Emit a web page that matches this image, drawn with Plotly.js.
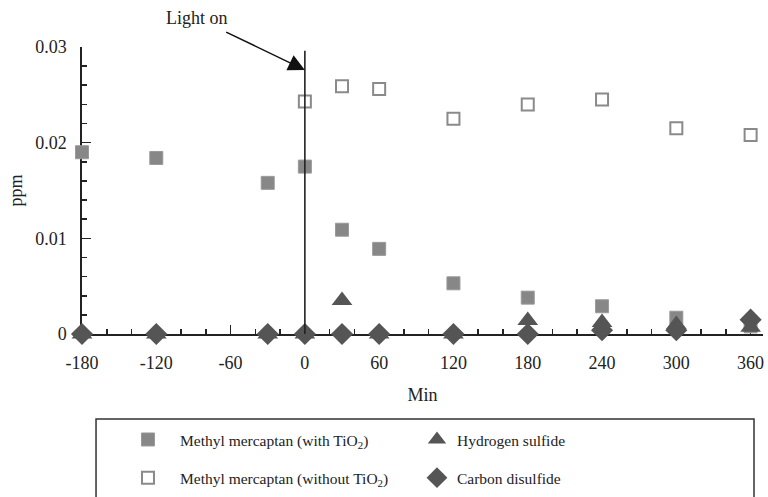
<!DOCTYPE html>
<html><head><meta charset="utf-8">
<script src="https://cdn.plot.ly/plotly-3.0.1.min.js"></script>
<style>html,body{margin:0;padding:0;background:#fff}</style>
</head><body>
<div id="chart" style="width:768px;height:497px"></div>
<script>
const minutes = [-180, -120, -30, 0, 30, 60, 120, 180, 240, 300, 360];
const mmWithTiO2 = [0.0190, 0.0184, 0.0158, 0.0175, 0.0109, 0.0089, 0.0053, 0.0038, 0.0029, 0.0017, 0.0008];
const minutesNoTiO2 = [0, 30, 60, 120, 180, 240, 300, 360];
const mmWithoutTiO2 = [0.0243, 0.0259, 0.0256, 0.0225, 0.0240, 0.0245, 0.0215, 0.0208];
const hydrogenSulfide = [0, 0, 0, 0, 0.0035, 0, 0, 0.0014, 0.0012, 0.0010, 0.0007];
const carbonDisulfide = [0, 0, 0, 0, 0, 0, 0, 0, 0.0004, 0.0004, 0.0015];
const xTickVals = [-180, -120, -60, 0, 60, 120, 180, 240, 300, 360];
const xTickText = ['-180', '-120', '-60', '0', '60', '120', '180', '240', '300', '360'];
const yTickVals = [0, 0.01, 0.02, 0.03];
const yTickText = ['0', '0.01', '0.02', '0.03'];
const lightOnTime = 0;
const lightOnLevel = 0.0276;

const serif = 'Liberation Serif, Times New Roman, serif';
const traces = [
  {x: minutes, y: mmWithTiO2, name: 'Methyl mercaptan (with TiO<sub>2</sub>)', mode: 'markers', type: 'scatter',
   cliponaxis: false, legend: 'legend',
   marker: {symbol: 'square', size: 13, color: '#878787', line: {color: '#9a9a9a', width: 1}}},
  {x: minutesNoTiO2, y: mmWithoutTiO2, name: 'Methyl mercaptan (without TiO<sub>2</sub>)', mode: 'markers', type: 'scatter',
   cliponaxis: false, legend: 'legend2',
   marker: {symbol: 'square-open', size: 12, color: '#8a8a8a', line: {color: '#8a8a8a', width: 2}}},
  {x: minutes, y: carbonDisulfide, name: 'Carbon disulfide', mode: 'markers', type: 'scatter',
   cliponaxis: false, legend: 'legend4',
   marker: {symbol: 'diamond', size: 17, color: '#555555'}},
  {x: minutes, y: hydrogenSulfide, name: 'Hydrogen sulfide', mode: 'markers', type: 'scatter',
   cliponaxis: false, legend: 'legend3',
   marker: {symbol: 'triangle-up', size: 18, color: '#555555'}}
];

const axisCommon = {
  showline: true, linecolor: '#222', linewidth: 1.6, showgrid: false, zeroline: false,
  ticks: 'inside', tickcolor: '#222', tickwidth: 1.6, ticklen: 9,
  tickfont: {family: serif, size: 18, color: '#222'}, layer: 'below traces'
};

const legendCommon = {orientation: 'h', xanchor: 'left', yanchor: 'middle',
  bgcolor: 'rgba(0,0,0,0)', borderwidth: 0,
  font: {family: serif, size: 15.5, color: '#222'}};

const layout = {
  width: 768, height: 497,
  margin: {l: 82, r: 5, t: 47, b: 163, autoexpand: false},
  paper_bgcolor: '#fff', plot_bgcolor: '#fff',
  font: {family: serif, color: '#222'},
  showlegend: true,
  xaxis: Object.assign({}, axisCommon, {
    range: [-180, 370], tickmode: 'array', tickvals: xTickVals, ticktext: xTickText,
    ticklabelstandoff: 12,
    minor: {dtick: 20, ticks: 'inside', ticklen: 5, tickcolor: '#222', tickwidth: 1.6},
    title: {text: 'Min', font: {family: serif, size: 18, color: '#222'}, standoff: 16}
  }),
  yaxis: Object.assign({}, axisCommon, {
    range: [0, 0.03], tickmode: 'array', tickvals: yTickVals, ticktext: yTickText,
    ticklabelstandoff: 10,
    minor: {dtick: 0.002, ticks: 'inside', ticklen: 5, tickcolor: '#222', tickwidth: 1.6},
    title: {text: 'ppm', font: {family: serif, size: 18, color: '#222'}, standoff: 8}
  }),
  legend: Object.assign({}, legendCommon, {x: 0.0499, y: -0.369, itemwidth: 54}),
  legend2: Object.assign({}, legendCommon, {x: 0.0499, y: -0.502, itemwidth: 54}),
  legend3: Object.assign({}, legendCommon, {x: 0.4919, y: -0.369, itemwidth: 30}),
  legend4: Object.assign({}, legendCommon, {x: 0.4919, y: -0.502, itemwidth: 30}),
  shapes: [
    {type: 'line', xref: 'x', yref: 'y', x0: lightOnTime, x1: lightOnTime, y0: 0, y1: 0.0296,
     line: {color: '#222', width: 1.6}},
    {type: 'rect', xref: 'paper', yref: 'paper', x0: 0.0206, x1: 0.9868, y0: -0.296, y1: -0.62,
     line: {color: '#333', width: 1.5}, fillcolor: 'rgba(0,0,0,0)'}
  ],
  annotations: [
    {x: lightOnTime, y: lightOnLevel, xref: 'x', yref: 'y', text: 'Light on', showarrow: true,
     ax: -108, ay: -52, arrowhead: 2, arrowsize: 2.2, arrowwidth: 1.5, arrowcolor: '#111',
     startstandoff: 6, font: {family: serif, size: 18, color: '#222'}}
  ]
};

Plotly.newPlot('chart', traces, layout, {displayModeBar: false, staticPlot: true});
</script>
</body></html>
